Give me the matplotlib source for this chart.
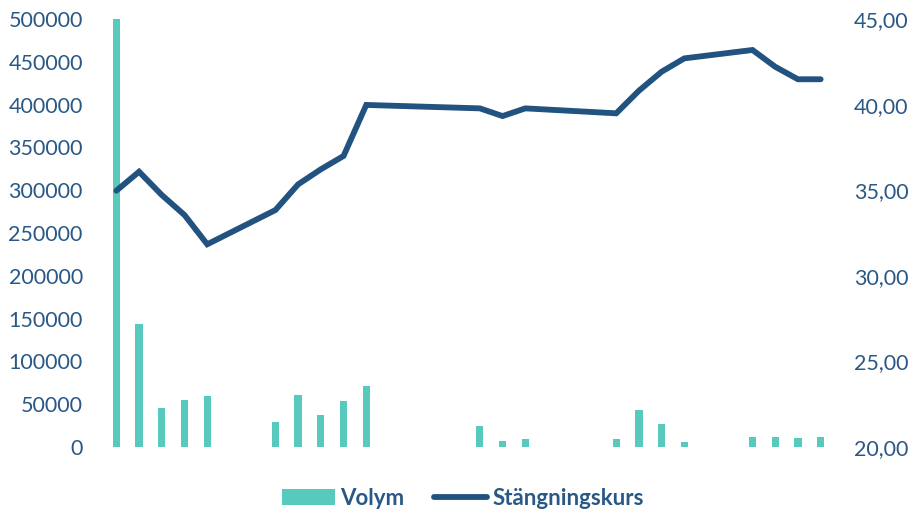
import matplotlib
matplotlib.use("Agg")
import matplotlib.pyplot as plt
from matplotlib.ticker import FuncFormatter

# Trading-day positions (calendar day offsets from first date)
vol_days = [0, 1, 2, 3, 4, 7, 8, 9, 10, 11, 16, 17, 18, 22, 23, 24, 25, 28, 29, 30, 31]
volume = [500000, 144000, 46000, 54500, 59500, 29000, 60500, 37500, 54000, 71000,
          25000, 7000, 9000, 9000, 43000, 27000, 5500, 11300, 12100, 10500, 11300]
price = [34.97, 36.08, 34.72, 33.55, 31.84, 33.84, 35.34, 36.22, 37.00, 39.98,
         39.78, 39.33, 39.78, 39.49, 40.81, 41.92, 42.70, 43.19, 42.21, 41.48, 41.48]

vol_ticks = [0, 50000, 100000, 150000, 200000, 250000, 300000, 350000, 400000, 450000, 500000]
price_ticks = [20, 25, 30, 35, 40, 45]

BAR = "#58C9BD"
LINE = "#22527F"
TXT = "#2A5886"

plt.rcParams['font.family'] = ['Lato', 'DejaVu Sans']

fig = plt.figure(figsize=(9.13, 5.11), dpi=100)
ax = fig.add_axes([105/913, 1-447/511, (832-105)/913, (447-19)/511])
ax2 = ax.twinx()

ax.bar(vol_days, volume, width=0.32, color=BAR, zorder=2, label="Volym")
ax2.plot(vol_days, price, color=LINE, lw=4.2, solid_capstyle='round',
         solid_joinstyle='miter', zorder=3, label="Stängningskurs")

ax.set_xlim(-0.5, 31.5)
ax.set_ylim(0, 500000)
ax.set_yticks(vol_ticks)
ax.yaxis.set_major_formatter(FuncFormatter(lambda v, p: f"{int(v)}"))
ax2.set_ylim(20, 45)
ax2.set_yticks(price_ticks)
ax2.yaxis.set_major_formatter(FuncFormatter(lambda v, p: f"{v:.2f}".replace('.', ',')))

for a in (ax, ax2):
    for s in a.spines.values():
        s.set_visible(False)
    a.tick_params(axis='both', length=0, labelsize=15.5, labelcolor=TXT, pad=16)
ax.set_xticks([])
ax.patch.set_visible(False)

h1, l1 = ax.get_legend_handles_labels()
h2, l2 = ax2.get_legend_handles_labels()
leg = fig.legend(h1 + h2, l1 + l2, loc='lower center', bbox_to_anchor=(463/913, -0.035),
                 ncol=2, frameon=False, handlelength=2.35, handleheight=0.7,
                 columnspacing=1.35, handletextpad=0.25,
                 prop={'weight': 'bold', 'size': 16})
for t in leg.get_texts():
    t.set_color(TXT)

fig.savefig("out.png", dpi=100)
